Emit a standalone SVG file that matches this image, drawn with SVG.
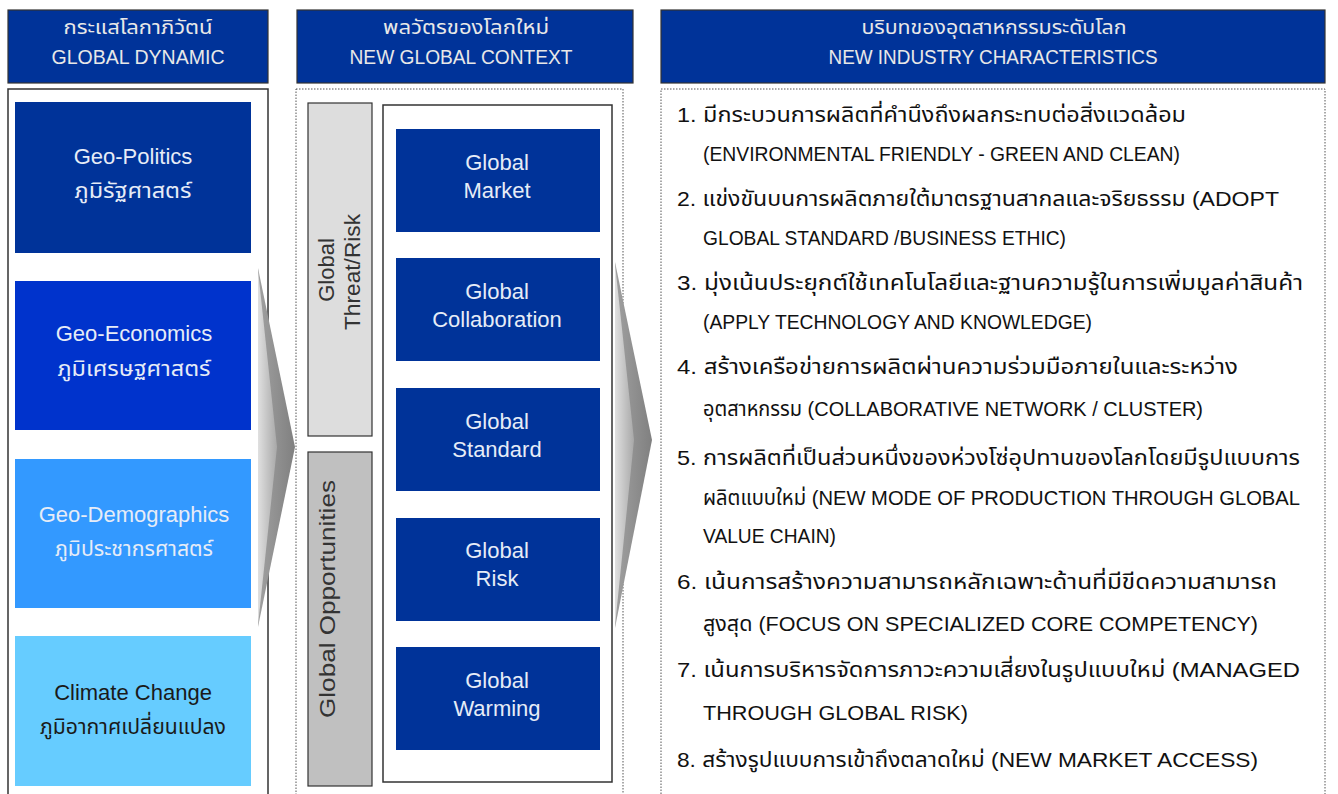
<svg xmlns="http://www.w3.org/2000/svg" width="1338" height="794" viewBox="0 0 1338 794">
<style>
text{font-family:"Liberation Sans","Noto Sans","Noto Sans Thai",sans-serif;}
.hdr{fill:#003399;stroke:#333;stroke-width:1.2;}
.ht{fill:#e8e8e8;font-size:20px;text-anchor:middle;}
.bt{fill:#e6ecf7;font-size:22px;text-anchor:middle;}
.dk{fill:#1a1a1a;font-size:22px;text-anchor:middle;}
.gb{fill:#003399;}
.dot{fill:#fff;stroke:#555;stroke-width:1;stroke-dasharray:1.5,1.5;}
.sol{fill:#fff;stroke:#333;stroke-width:1.5;}
.rt{fill:#111;font-size:21px;}
.vt{fill:#333;font-size:22px;text-anchor:middle;}
</style>
<defs>
<linearGradient id="arr" x1="0" y1="0" x2="1" y2="0">
<stop offset="0" stop-color="#a0a0a0"/>
<stop offset="1" stop-color="#808080"/>
</linearGradient>
<linearGradient id="arrL" x1="0" y1="0" x2="1" y2="0">
<stop offset="0" stop-color="#e0e0e0"/>
<stop offset="1" stop-color="#a8a8a8"/>
</linearGradient>
</defs>
<rect width="1338" height="794" fill="#fff"/>

<!-- containers -->
<rect id="col1" class="sol" x="8" y="89" width="260" height="710"/>
<rect id="col2" class="dot" x="296" y="89" width="327" height="710"/>
<rect id="col3" class="dot" x="661" y="89" width="664" height="710"/>

<!-- headers -->
<g id="h1"><rect class="hdr" x="8" y="10" width="260" height="73"/>
<text class="ht" x="138" y="34" textLength="149" lengthAdjust="spacingAndGlyphs">กระแสโลกาภิวัตน์</text>
<text class="ht" x="138" y="64" textLength="173" lengthAdjust="spacingAndGlyphs">GLOBAL DYNAMIC</text></g>
<g id="h2"><rect class="hdr" x="297" y="10" width="336" height="73"/>
<text class="ht" x="466" y="34" textLength="166" lengthAdjust="spacingAndGlyphs">พลวัตรของโลกใหม่</text>
<text class="ht" x="461" y="64" textLength="223" lengthAdjust="spacingAndGlyphs">NEW GLOBAL CONTEXT</text></g>
<g id="h3"><rect class="hdr" x="661" y="10" width="664" height="73"/>
<text class="ht" x="994" y="34" textLength="265" lengthAdjust="spacingAndGlyphs">บริบทของอุตสาหกรรมระดับโลก</text>
<text class="ht" x="993" y="64" textLength="329" lengthAdjust="spacingAndGlyphs">NEW INDUSTRY CHARACTERISTICS</text></g>

<!-- left column -->
<g id="geo-politics"><rect x="15" y="102" width="236" height="151" fill="#003399"/>
<text class="bt" x="133" y="164">Geo-Politics</text>
<text class="bt" x="133" y="198" textLength="117" lengthAdjust="spacingAndGlyphs">ภูมิรัฐศาสตร์</text></g>
<g id="geo-economics"><rect x="15" y="281" width="236" height="149" fill="#0033cc"/>
<text class="bt" x="134" y="341">Geo-Economics</text>
<text class="bt" x="134" y="376" textLength="153" lengthAdjust="spacingAndGlyphs">ภูมิเศรษฐศาสตร์</text></g>
<g id="geo-demographics"><rect x="15" y="459" width="236" height="149" fill="#3399ff"/>
<text class="bt" x="134" y="522">Geo-Demographics</text>
<text class="bt" x="134" y="556" textLength="158" lengthAdjust="spacingAndGlyphs">ภูมิประชากรศาสตร์</text></g>
<g id="climate"><rect x="15" y="636" width="236" height="150" fill="#66ccff"/>
<text class="dk" x="133" y="700">Climate Change</text>
<text class="dk" x="133" y="734" textLength="186" lengthAdjust="spacingAndGlyphs">ภูมิอากาศเปลี่ยนแปลง</text></g>

<!-- middle column -->
<g id="threat"><rect x="308" y="103" width="64" height="333" fill="#dddddd" stroke="#333" stroke-width="1.2"/>
<text class="vt" transform="translate(334,270) rotate(-90)">Global</text>
<text class="vt" transform="translate(360,272) rotate(-90)" textLength="116" lengthAdjust="spacingAndGlyphs">Threat/Risk</text></g>
<g id="opportunities"><rect x="308" y="452" width="64" height="334" fill="#c0c0c0" stroke="#333" stroke-width="1.2"/>
<text class="vt" transform="translate(335,599) rotate(-90)" textLength="238" lengthAdjust="spacingAndGlyphs">Global Opportunities</text></g>
<rect id="inner" class="sol" x="383" y="105" width="229" height="677"/>
<g id="market"><rect class="gb" x="396" y="129" width="204" height="103"/>
<text class="bt" x="497" y="170">Global</text><text class="bt" x="497" y="198">Market</text></g>
<g id="collaboration"><rect class="gb" x="396" y="258" width="204" height="103"/>
<text class="bt" x="497" y="299">Global</text><text class="bt" x="497" y="327">Collaboration</text></g>
<g id="standard"><rect class="gb" x="396" y="388" width="204" height="103"/>
<text class="bt" x="497" y="429">Global</text><text class="bt" x="497" y="457">Standard</text></g>
<g id="risk"><rect class="gb" x="396" y="518" width="204" height="103"/>
<text class="bt" x="497" y="558">Global</text><text class="bt" x="497" y="586">Risk</text></g>
<g id="warming"><rect class="gb" x="396" y="647" width="204" height="103"/>
<text class="bt" x="497" y="688">Global</text><text class="bt" x="497" y="716">Warming</text></g>

<!-- connectors (chevron arrows) -->
<g id="connectors">
<g id="arrow1"><polygon points="258,268 295,447 258,627" fill="url(#arr)"/>
<polygon points="258,270 277,447 258,625" fill="url(#arrL)"/></g>
<g id="arrow2"><polygon points="615,262 652,440 615,628" fill="url(#arr)"/>
<polygon points="615,264 634,440 615,626" fill="url(#arrL)"/></g>
</g>

<!-- right column text -->
<g id="characteristics">
<text class="rt" x="677" y="122" textLength="509" lengthAdjust="spacingAndGlyphs">1. มีกระบวนการผลิตที่คำนึงถึงผลกระทบต่อสิ่งแวดล้อม</text>
<text class="rt" x="703" y="161" textLength="477" lengthAdjust="spacingAndGlyphs">(ENVIRONMENTAL FRIENDLY - GREEN AND CLEAN)</text>
<text class="rt" x="677" y="206" textLength="602" lengthAdjust="spacingAndGlyphs">2. แข่งขันบนการผลิตภายใต้มาตรฐานสากลและจริยธรรม (ADOPT</text>
<text class="rt" x="703" y="245" textLength="363" lengthAdjust="spacingAndGlyphs">GLOBAL STANDARD /BUSINESS ETHIC)</text>
<text class="rt" x="677" y="290" textLength="626" lengthAdjust="spacingAndGlyphs">3. มุ่งเน้นประยุกต์ใช้เทคโนโลยีและฐานความรู้ในการเพิ่มมูลค่าสินค้า</text>
<text class="rt" x="703" y="329" textLength="389" lengthAdjust="spacingAndGlyphs">(APPLY TECHNOLOGY AND KNOWLEDGE)</text>
<text class="rt" x="677" y="374" textLength="561" lengthAdjust="spacingAndGlyphs">4. สร้างเครือข่ายการผลิตผ่านความร่วมมือภายในและระหว่าง</text>
<text class="rt" x="703" y="416" textLength="500" lengthAdjust="spacingAndGlyphs">อุตสาหกรรม (COLLABORATIVE NETWORK / CLUSTER)</text>
<text class="rt" x="677" y="465" textLength="623" lengthAdjust="spacingAndGlyphs">5. การผลิตที่เป็นส่วนหนึ่งของห่วงโซ่อุปทานของโลกโดยมีรูปแบบการ</text>
<text class="rt" x="703" y="505" textLength="597" lengthAdjust="spacingAndGlyphs">ผลิตแบบใหม่ (NEW MODE OF PRODUCTION THROUGH GLOBAL</text>
<text class="rt" x="703" y="543" textLength="133" lengthAdjust="spacingAndGlyphs">VALUE CHAIN)</text>
<text class="rt" x="677" y="589" textLength="600" lengthAdjust="spacingAndGlyphs">6. เน้นการสร้างความสามารถหลักเฉพาะด้านที่มีขีดความสามารถ</text>
<text class="rt" x="703" y="631" textLength="555" lengthAdjust="spacingAndGlyphs">สูงสุด (FOCUS ON SPECIALIZED CORE COMPETENCY)</text>
<text class="rt" x="677" y="677" textLength="623" lengthAdjust="spacingAndGlyphs">7. เน้นการบริหารจัดการภาวะความเสี่ยงในรูปแบบใหม่ (MANAGED</text>
<text class="rt" x="703" y="720" textLength="265" lengthAdjust="spacingAndGlyphs">THROUGH GLOBAL RISK)</text>
<text class="rt" x="677" y="767" textLength="581" lengthAdjust="spacingAndGlyphs">8. สร้างรูปแบบการเข้าถึงตลาดใหม่ (NEW MARKET ACCESS)</text>
</g>
</svg>
